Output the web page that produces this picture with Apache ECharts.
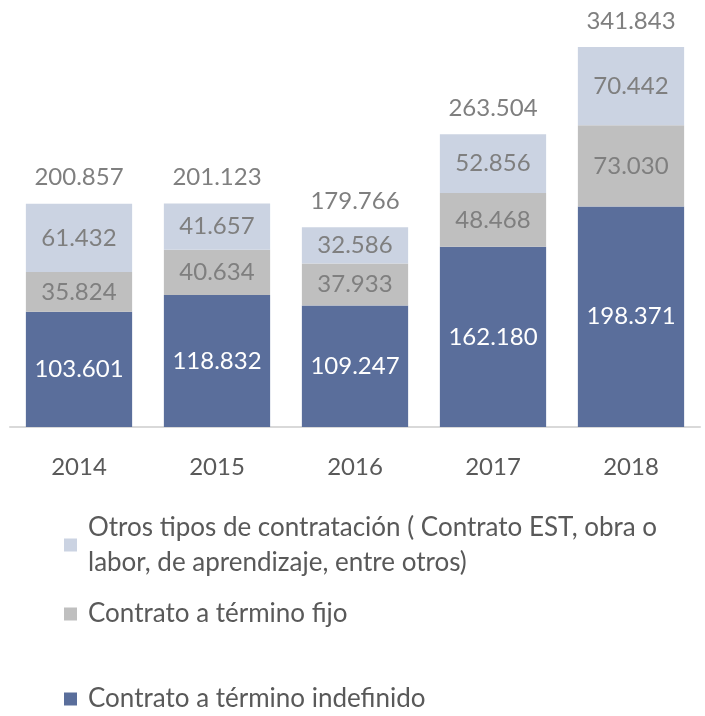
<!DOCTYPE html>
<html>
<head>
<meta charset="utf-8">
<script src="https://cdn.jsdelivr.net/npm/echarts@6/dist/echarts.min.js"></script>
<style>
  html, body { margin: 0; padding: 0; background: #fff; }
  #chart { width: 705px; height: 716px; }
</style>
</head>
<body>
<div id="chart"></div>
<script>
// años
var years = ['2014', '2015', '2016', '2017', '2018'];
// Contrato a término indefinido
var indefinido = [103601, 118832, 109247, 162180, 198371];
// Contrato a término fijo
var fijo = [35824, 40634, 37933, 48468, 73030];
// Otros tipos de contratación
var otros = [61432, 41657, 32586, 52856, 70442];
// totales
var totales = [200857, 201123, 179766, 263504, 341843];

var nameOtros = 'Otros tipos de contratación ( Contrato EST, obra o labor, de aprendizaje, entre otros)';
var nameFijo = 'Contrato a término fijo';
var nameIndef = 'Contrato a término indefinido';

function miles(v) {
    return String(v).replace(/\B(?=(\d{3})+(?!\d))/g, '.');
}

var font = 'Lato';
var chart = echarts.init(document.getElementById('chart'));

var legendText = { fontSize: 26, color: '#595959', fontFamily: font, padding: [0, 0, 0, 6] };

var option = {
    animation: false,
    textStyle: { fontFamily: font },
    grid: { left: 10, right: 5, top: 38, bottom: 289, containLabel: false },
    xAxis: {
        type: 'category',
        data: years,
        axisLine: { lineStyle: { color: '#d9d9d9', width: 2 } },
        axisTick: { show: false },
        axisLabel: { fontSize: 24, color: '#595959', margin: 28, fontFamily: font }
    },
    yAxis: {
        type: 'value',
        min: 0,
        max: 350000,
        show: false,
        splitLine: { show: false }
    },
    legend: [
        {
            data: [nameOtros], left: 59, top: 505, orient: 'vertical',
            itemWidth: 13, itemHeight: 13, itemGap: 0,
            icon: 'rect',
            formatter: function () { return 'Otros tipos de contratación ( Contrato EST, obra o\nlabor, de aprendizaje, entre otros)'; },
            textStyle: Object.assign({ lineHeight: 35 }, legendText)
        },
        {
            data: [nameFijo], left: 59, top: 596, icon: 'rect',
            itemWidth: 13, itemHeight: 13,
            textStyle: legendText
        },
        {
            data: [nameIndef], left: 59, top: 681, icon: 'rect',
            itemWidth: 13, itemHeight: 13,
            textStyle: legendText
        }
    ],
    series: [
        {
            name: nameIndef, type: 'bar', stack: 'total', data: indefinido,
            barCategoryGap: '23%',
            itemStyle: { color: '#5a6e9b' },
            label: { show: true, position: 'inside', color: '#ffffff', fontSize: 24, fontFamily: font,
                formatter: function (p) { return miles(p.value); } }
        },
        {
            name: nameFijo, type: 'bar', stack: 'total', data: fijo,
            itemStyle: { color: '#bfbfbf' },
            label: { show: true, position: 'inside', color: '#7f7f7f', fontSize: 24, fontFamily: font,
                formatter: function (p) { return miles(p.value); } }
        },
        {
            name: nameOtros, type: 'bar', stack: 'total', data: otros,
            itemStyle: { color: '#cbd3e2' },
            label: { show: true, position: 'inside', color: '#7f7f7f', fontSize: 24, fontFamily: font,
                formatter: function (p) { return miles(p.value); } }
        },
        {
            name: 'Total', type: 'bar', stack: 'total',
            data: years.map(function () { return 0; }),
            itemStyle: { color: 'transparent' },
            label: { show: true, position: 'top', distance: 14, color: '#7f7f7f', fontSize: 24, fontFamily: font,
                formatter: function (p) { return miles(totales[p.dataIndex]); } }
        }
    ]
};

chart.setOption(option);

window.addEventListener('resize', function () {
    chart.resize();
});
</script>
</body>
</html>
